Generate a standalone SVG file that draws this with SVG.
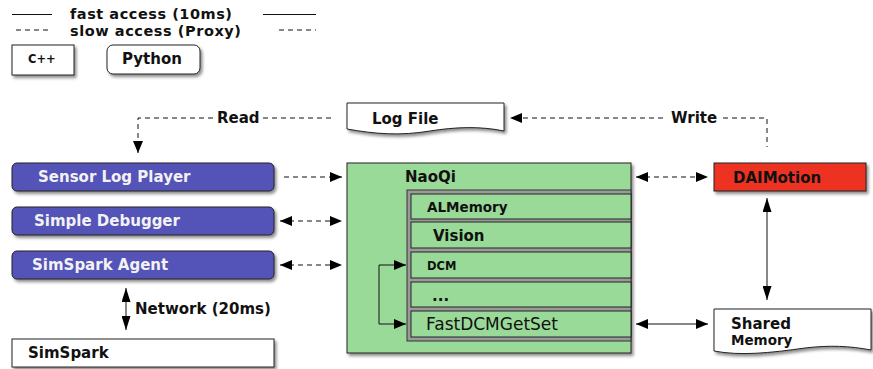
<svg xmlns="http://www.w3.org/2000/svg" width="873" height="369" viewBox="0 0 873 369">
<style>
text{font-family:"DejaVu Sans",sans-serif;font-weight:bold;font-size:15px;fill:#111}
.lg{font-size:14.5px}
.w{fill:#f2f2f2}
.box{stroke:#222;stroke-width:1}
.blue{fill:#5353b8}
.green{fill:#9ada98}
.red{fill:#ee3322}
.white{fill:#fff}
.ln{stroke:#111;stroke-width:1;fill:none}
.d{stroke-dasharray:5,4}
.sh{filter:url(#sh)}
</style>
<defs>
<filter id="sh" x="-10%" y="-20%" width="130%" height="160%">
<feDropShadow dx="2" dy="2.5" stdDeviation="1.5" flood-color="#000" flood-opacity="0.45"/>
</filter>
<marker id="ah" viewBox="0 0 12 10" refX="12" refY="5" markerWidth="12" markerHeight="10" markerUnits="userSpaceOnUse" orient="auto-start-reverse">
<path d="M0,0 L12,5 L0,10 Z" fill="#000"/>
</marker>
<marker id="ahl" viewBox="0 0 14 9" refX="14" refY="4.5" markerWidth="14" markerHeight="9" markerUnits="userSpaceOnUse" orient="auto-start-reverse">
<path d="M0,0 L14,4.5 L0,9 Z" fill="#000"/>
</marker>
</defs>

<g id="legend">
<line class="ln" x1="12" y1="14.5" x2="52" y2="14.5"/>
<text class="lg" x="70" y="19" textLength="162">fast access (10ms)</text>
<line class="ln" x1="263" y1="14.5" x2="316" y2="14.5"/>
<line class="ln d" x1="16" y1="30" x2="52" y2="30"/>
<text class="lg" x="70" y="36" textLength="171">slow access (Proxy)</text>
<line class="ln d" x1="279" y1="30" x2="316" y2="30"/>
</g>
<g id="legend-cpp">
<rect class="box white sh" x="12" y="45" width="62" height="30"/>
<text x="28" y="63" style="font-size:11.5px">C++</text>
</g>
<g id="legend-python">
<rect class="box white sh" x="107" y="45" width="93" height="29" rx="6"/>
<text x="122" y="64">Python</text>
</g>

<g id="connectors">
<!-- Read -->
<polyline class="ln d" points="213,118 138,118 138,153" marker-end="url(#ah)"/>
<line class="ln d" x1="263" y1="118" x2="333" y2="118"/>
<text x="217" y="123">Read</text>
<!-- Write -->
<line class="ln d" x1="663" y1="118" x2="510" y2="118" marker-end="url(#ah)"/>
<polyline class="ln d" points="723,118 767,118 767,147"/>
<text x="671" y="123">Write</text>
<!-- Sensor -> NaoQi -->
<line class="ln d" x1="284" y1="177" x2="342" y2="177" marker-end="url(#ah)"/>
<!-- Debugger <-> NaoQi -->
<line class="ln d" x1="280" y1="221" x2="342" y2="221" marker-start="url(#ah)" marker-end="url(#ah)"/>
<!-- Agent <-> NaoQi -->
<line class="ln d" x1="280" y1="265" x2="342" y2="265" marker-start="url(#ah)" marker-end="url(#ah)"/>
<!-- NaoQi <-> DAIMotion -->
<line class="ln d" x1="636" y1="177" x2="708" y2="177" marker-start="url(#ah)" marker-end="url(#ah)"/>
<!-- Network -->
<line class="ln" x1="126" y1="288" x2="126" y2="330" marker-start="url(#ahl)" marker-end="url(#ahl)"/>
<text x="135" y="314">Network (20ms)</text>
<!-- DAIMotion <-> Shared -->
<line class="ln" x1="767" y1="198" x2="767" y2="300" marker-start="url(#ahl)" marker-end="url(#ahl)"/>
<!-- FastDCM <-> Shared -->
<line class="ln" x1="636" y1="324" x2="708" y2="324" marker-start="url(#ah)" marker-end="url(#ah)"/>
</g>

<g id="log-file">
<path class="box white sh" d="M347,103 H504 V131 C480,126 455,127 430,131 C400,136 375,134 347,129 Z"/>
<text x="372" y="124">Log File</text>
</g>

<g id="sensor-log-player">
<rect class="box blue sh" x="12" y="163" width="262" height="28" rx="5"/>
<text class="w" x="38" y="182">Sensor Log Player</text>
</g>
<g id="simple-debugger">
<rect class="box blue sh" x="12" y="207" width="262" height="28" rx="5"/>
<text class="w" x="34" y="226">Simple Debugger</text>
</g>
<g id="simspark-agent">
<rect class="box blue sh" x="12" y="251" width="262" height="28" rx="5"/>
<text class="w" x="32" y="270">SimSpark Agent</text>
</g>
<g id="simspark">
<rect class="box white sh" x="12" y="339" width="262" height="28"/>
<text x="28" y="358">SimSpark</text>
</g>

<g id="naoqi">
<rect class="box green sh" x="347" y="163" width="284" height="190"/>
<text x="405" y="182">NaoQi</text>
<rect x="407" y="190" width="224" height="151" fill="#9a9a9a" stroke="#333"/>
</g>
<g id="almemory">
<rect class="box green" x="411" y="194" width="220" height="25"/>
<text x="427" y="212" style="font-size:13.5px">ALMemory</text>
</g>
<g id="vision">
<rect class="box green" x="411" y="222" width="220" height="26"/>
<text x="433" y="241">Vision</text>
</g>
<g id="dcm">
<rect class="box green" x="411" y="252" width="220" height="26"/>
<text x="427" y="270" style="font-size:11.5px">DCM</text>
</g>
<g id="dots">
<rect class="box green" x="411" y="282" width="220" height="25"/>
<text x="432" y="301">...</text>
</g>
<g id="fastdcmgetset">
<rect class="box green" x="411" y="311" width="220" height="26"/>
<text x="426" y="330" style="font-weight:normal;font-size:17px">FastDCMGetSet</text>
</g>
<g id="dcm-loop">
<polyline class="ln" points="406,265 379,265 379,324 406,324" marker-start="url(#ah)" marker-end="url(#ah)"/>
</g>

<g id="daimotion">
<rect class="box red sh" x="714" y="163" width="152" height="28"/>
<text x="733" y="183">DAIMotion</text>
</g>
<g id="shared-memory">
<path class="box white sh" d="M714,309 H871 V350 C850,346 830,345 805,348 C770,353 740,356 714,351 Z"/>
<text x="731" y="329">Shared</text>
<text x="731" y="345" style="font-size:13.5px">Memory</text>
</g>
</svg>
